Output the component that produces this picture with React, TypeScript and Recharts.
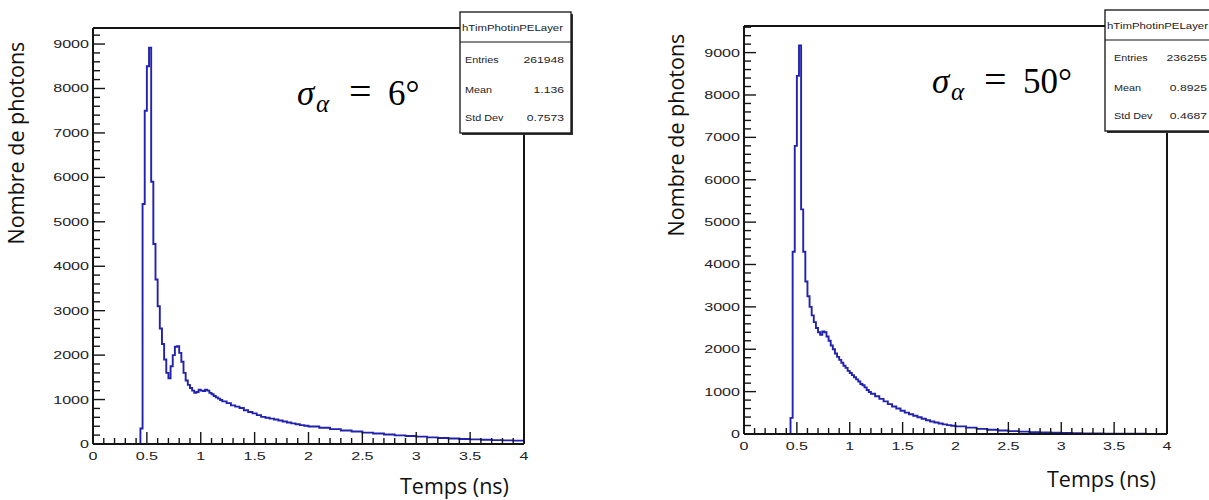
import React from "react";
import { LineChart, Line, XAxis, YAxis } from "recharts";

// bin left edges (ns); finer bins around the peak, coarser in the tail
const binStart = [
  0,
  0.44, 0.46, 0.48, 0.5, 0.52, 0.54, 0.56, 0.58, 0.6, 0.62,
  0.64, 0.66, 0.68, 0.7, 0.72, 0.74, 0.76, 0.78, 0.8, 0.82,
  0.84, 0.86, 0.88, 0.9, 0.92, 0.94, 0.96, 0.98, 1.0, 1.02,
  1.04, 1.06, 1.08, 1.1, 1.12, 1.14, 1.16, 1.18, 1.2,
  1.24, 1.28, 1.32, 1.36, 1.4, 1.44, 1.48, 1.52, 1.56, 1.6,
  1.64, 1.68, 1.72, 1.76, 1.8, 1.84, 1.88, 1.92, 1.96, 2.0,
  2.1, 2.2, 2.3, 2.4, 2.5, 2.6, 2.7, 2.8, 2.9, 3.0,
  3.1, 3.2, 3.3, 3.4, 3.5, 3.6, 3.7, 3.8, 3.9, 4.0,
];

// sigma_alpha = 6 deg
const photonsSigma6 = [
  0,
  350, 5400, 7500, 8500, 8920, 5900, 4500, 3700, 3100, 2600,
  2250, 1900, 1600, 1480, 1750, 2000, 2190, 2200, 2050, 1850,
  1600, 1430, 1330, 1260, 1200, 1150, 1170, 1220, 1200, 1190,
  1220, 1200, 1150, 1120, 1080, 1050, 1020, 990, 960,
  920, 870, 840, 810, 760, 720, 690, 650, 610, 590,
  570, 550, 530, 505, 485, 465, 445, 425, 410, 395,
  365, 335, 305, 280, 255, 235, 215, 195, 180, 165,
  150, 135, 125, 112, 103, 95, 88, 82, 76, 72,
];

// sigma_alpha = 50 deg
const photonsSigma50 = [
  0,
  380, 4300, 6800, 8450, 9170, 5300, 4300, 3600, 3250, 3000,
  2800, 2640, 2500, 2400, 2340, 2420, 2400, 2300, 2200, 2090,
  2000, 1900, 1820, 1750, 1680, 1610, 1560, 1490, 1440, 1390,
  1340, 1290, 1240, 1180, 1150, 1100, 1040, 990, 950,
  890, 830, 770, 705, 650, 600, 550, 505, 465, 430,
  395, 360, 325, 295, 270, 248, 228, 210, 195, 180,
  150, 122, 100, 82, 68, 55, 45, 37, 30, 24,
  19, 15, 12, 10, 8, 6, 5, 4, 3, 3,
];

const xMajorTicks = [0, 0.5, 1, 1.5, 2, 2.5, 3, 3.5, 4];
const yMajorTicks = [0, 1000, 2000, 3000, 4000, 5000, 6000, 7000, 8000, 9000];

const statLabels = ["Entries", "Mean", "Std Dev"];
const statsSigma6 = ["261948", "1.136", "0.7573"];
const statsSigma50 = ["236255", "0.8925", "0.4687"];

const rows = binStart.map((t, i) => ({
  t,
  sigma6: photonsSigma6[i],
  sigma50: photonsSigma50[i],
}));

const AXIS = "#151515";
const LINE = "#2222b0";
const TICK_FONT = "'Liberation Sans', Arial, sans-serif";
const TITLE_FONT = "'Open Sans', sans-serif";

// minor ticks: 5 per 0.5 ns, 5 per 1000
const xTicks: number[] = [];
for (let i = 0; i <= 40; i++) xTicks.push(i / 10);
const makeYTicks = (max: number) => {
  const out: number[] = [];
  for (let v = 0; v <= max; v += 200) out.push(v);
  return out;
};

function XTick({ x, y, payload }: any) {
  const v = payload.value as number;
  const major = xMajorTicks.some((m) => Math.abs(m - v) < 1e-6);
  return (
    <g>
      <line x1={x} x2={x} y1={y} y2={y - (major ? 12 : 6)} stroke={AXIS} strokeWidth={1.4} />
      {major && (
        <text
          transform={`translate(${x},${y + 16}) scale(1.4,1)`}
          textAnchor="middle"
          fontSize={11.5}
          fontFamily={TICK_FONT}
          fill="#222"
        >
          {String(v)}
        </text>
      )}
    </g>
  );
}

function YTick({ x, y, payload }: any) {
  const v = payload.value as number;
  const major = yMajorTicks.includes(v);
  return (
    <g>
      <line x1={x} x2={x + (major ? 12 : 7)} y1={y} y2={y} stroke={AXIS} strokeWidth={1.4} />
      {major && (
        <text
          transform={`translate(${x - 4},${y + 4}) scale(1.4,1)`}
          textAnchor="end"
          fontSize={11.5}
          fontFamily={TICK_FONT}
          fill="#222"
        >
          {String(v)}
        </text>
      )}
    </g>
  );
}

function TimingHistogram({
  dataKey,
  yMax,
  width,
  margin,
}: {
  dataKey: string;
  yMax: number;
  width: number;
  margin: { top: number; right: number; bottom: number; left: number };
}) {
  const axisLine = { stroke: AXIS, strokeWidth: 2 };
  return (
    <LineChart width={width} height={500} data={rows} margin={margin}>
      <XAxis
        dataKey="t"
        type="number"
        domain={[0, 4]}
        ticks={xTicks}
        interval={0}
        height={1}
        tickSize={0}
        tickMargin={0}
        tickLine={false}
        axisLine={axisLine}
        tick={(p: any) => <XTick {...p} />}
        allowDataOverflow
      />
      <XAxis
        xAxisId="top"
        orientation="top"
        type="number"
        domain={[0, 4]}
        height={1}
        tick={false}
        tickLine={false}
        axisLine={axisLine}
      />
      <YAxis
        type="number"
        domain={[0, yMax]}
        ticks={makeYTicks(yMax)}
        interval={0}
        width={1}
        tickSize={0}
        tickMargin={0}
        tickLine={false}
        axisLine={axisLine}
        tick={(p: any) => <YTick {...p} />}
        allowDataOverflow
      />
      <YAxis
        yAxisId="right"
        orientation="right"
        type="number"
        domain={[0, yMax]}
        width={1}
        tick={false}
        tickLine={false}
        axisLine={axisLine}
      />
      <Line
        type="stepAfter"
        dataKey={dataKey}
        stroke={LINE}
        strokeWidth={1.9}
        dot={false}
        isAnimationActive={false}
      />
    </LineChart>
  );
}

function StatsBox({
  x,
  y,
  w,
  values,
  valueRight,
  labelLeft,
}: {
  x: number;
  y: number;
  w: number;
  values: string[];
  valueRight: number;
  labelLeft: number;
}) {
  const h = 121;
  const rowY = [y + 51, y + 81, y + 109];
  return (
    <g fontFamily={TICK_FONT} fill="#222">
      <rect x={x + 2} y={y + 2} width={w} height={h} fill="#333" />
      <rect x={x} y={y} width={w} height={h} fill="#fff" stroke="#111" strokeWidth={1.3} />
      <line x1={x} x2={x + w} y1={y + 30} y2={y + 30} stroke="#111" strokeWidth={1.2} />
      <text x={x + 2} y={y + 19} fontSize={9.6} textLength={101} lengthAdjust="spacingAndGlyphs">
        hTimPhotinPELayer
      </text>
      {statLabels.map((l, i) => (
        <text
          key={l}
          transform={`translate(${labelLeft},${rowY[i]}) scale(1.2,1)`}
          fontSize={9}
        >
          {l}
        </text>
      ))}
      {values.map((v, i) => (
        <text
          key={i}
          transform={`translate(${valueRight},${rowY[i]}) scale(1.35,1)`}
          fontSize={9}
          textAnchor="end"
        >
          {v}
        </text>
      ))}
    </g>
  );
}

function SigmaLabel({ x, y, value }: { x: number; y: number; value: string }) {
  const f = "'Liberation Serif', 'DejaVu Serif', serif";
  return (
    <text fontFamily={f} fontSize={35} fill="#000">
      <tspan x={x} y={y} fontStyle="italic">σ</tspan>
      <tspan x={x + 19} y={y + 7} fontStyle="italic" fontSize={25}>α</tspan>
      <tspan x={x + 52} y={y} fontSize={40}>=</tspan>
      <tspan x={x + 91} y={y}>{value}</tspan>
    </text>
  );
}

export default function App() {
  return (
    <div style={{ position: "absolute", left: 0, top: 0, width: 1209, height: 500, background: "#fff" }}>
      <div style={{ position: "absolute", left: 0, top: 0 }}>
        <TimingHistogram
          dataKey="sigma6"
          yMax={9361}
          width={600}
          margin={{ top: 27, right: 75, bottom: 55, left: 92 }}
        />
      </div>
      <div style={{ position: "absolute", left: 650, top: 0 }}>
        <TimingHistogram
          dataKey="sigma50"
          yMax={9628}
          width={559}
          margin={{ top: 25, right: 41, bottom: 65, left: 93 }}
        />
      </div>
      <svg
        width={1209}
        height={500}
        style={{ position: "absolute", left: 0, top: 0, pointerEvents: "none" }}
      >
        <text
          transform="translate(24,143) rotate(-90)"
          textAnchor="middle"
          fontFamily={TITLE_FONT}
          fontSize={21.5}
          fill="#111"
        >
          Nombre de photons
        </text>
        <text
          transform="translate(684,135) rotate(-90)"
          textAnchor="middle"
          fontFamily={TITLE_FONT}
          fontSize={21.5}
          fill="#111"
        >
          Nombre de photons
        </text>
        <text x={400} y={494} fontFamily={TITLE_FONT} fontSize={21.5} fill="#111">
          Temps (ns)
        </text>
        <text x={1047} y={487} fontFamily={TITLE_FONT} fontSize={21.5} fill="#111">
          Temps (ns)
        </text>
        <SigmaLabel x={297} y={105} value="6°" />
        <SigmaLabel x={932} y={93} value="50°" />
        <StatsBox x={460} y={12} w={111} values={statsSigma6} valueRight={564} labelLeft={465} />
        <StatsBox x={1105} y={10} w={115} values={statsSigma50} valueRight={1207} labelLeft={1114} />
      </svg>
    </div>
  );
}
